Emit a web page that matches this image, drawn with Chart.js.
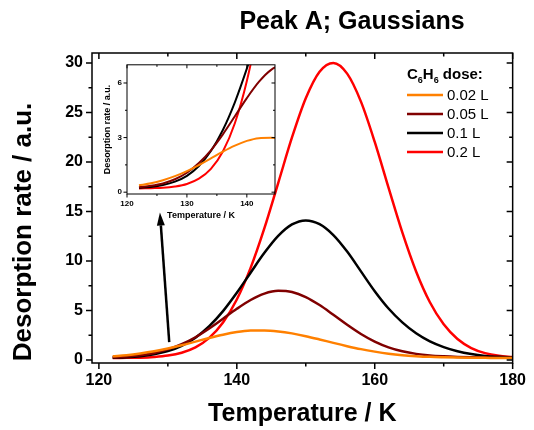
<!DOCTYPE html>
<html>
<head>
<meta charset="utf-8">
<script src="https://cdn.jsdelivr.net/npm/chart.js@4.4.1/dist/chart.umd.min.js"></script>
<style>
  html, body { margin: 0; padding: 0; background: #fff; }
  #wrap { position: relative; width: 534px; height: 430px; }
  #mainChart { position: absolute; left: 0; top: 0; }
  #insetChart { position: absolute; left: 95px; top: 55px; }
</style>
</head>
<body>
<div id="wrap">
  <canvas id="mainChart" width="534" height="430"></canvas>
  <canvas id="insetChart" width="190" height="175"></canvas>
</div>
<script>
// temperature (K) and desorption rate (a.u.)
const temperatures = [122, 124, 126, 128, 130, 132, 134, 136, 138, 140, 142, 144, 146, 148, 150,
                      152, 154, 156, 158, 160, 162, 164, 166, 168, 170, 172, 174, 176, 178, 180];
const dose002 = [0.38, 0.49, 0.66, 0.88, 1.16, 1.49, 1.86, 2.23, 2.56, 2.82, 2.97, 2.99, 2.89, 2.69, 2.41,
                 2.08, 1.73, 1.40, 1.10, 0.85, 0.64, 0.49, 0.39, 0.32, 0.28, 0.25, 0.23, 0.22, 0.21, 0.21];
const dose005 = [0.27, 0.35, 0.48, 0.71, 1.07, 1.60, 2.30, 3.18, 4.17, 5.17, 6.06, 6.71, 6.99, 6.87, 6.36,
                 5.55, 4.57, 3.56, 2.63, 1.86, 1.28, 0.88, 0.62, 0.46, 0.37, 0.31, 0.27, 0.25, 0.24, 0.23];
const dose01  = [0.24, 0.29, 0.39, 0.58, 0.90, 1.44, 2.26, 3.42, 4.94, 6.79, 8.82, 10.82, 12.53, 13.69, 14.10,
                 13.72, 12.62, 10.95, 8.95, 6.95, 5.20, 3.80, 2.70, 1.88, 1.30, 0.88, 0.60, 0.42, 0.32, 0.26];
const dose02  = [0.20, 0.22, 0.24, 0.31, 0.45, 0.74, 1.28, 2.24, 3.79, 6.11, 9.30, 13.31, 17.87, 22.47, 26.43,
                 29.11, 30.00, 28.92, 26.09, 22.02, 17.40, 12.88, 8.94, 5.83, 3.60, 2.12, 1.21, 0.70, 0.43, 0.30];

const seriesLabels = ['0.02 L', '0.05 L', '0.1 L', '0.2 L'];
const seriesColors = ['#FF8000', '#800000', '#000000', '#FF0000'];

// tick values
const xTickLabels = [120, 140, 160, 180];
const xMinorTicks = [130, 150, 170];
const yTickLabels = [0, 5, 10, 15, 20, 25, 30];
const yMinorTicks = [2.5, 7.5, 12.5, 17.5, 22.5, 27.5];
const insetXTickLabels = [120, 130, 140];
const insetXMinorTicks = [125, 135];
const insetYTickLabels = [0, 3, 6];
const insetYMinorTicks = [1.5, 4.5];

// arrow from the main curves up to the inset (data coordinates)
const arrowTail = [130.2, 1.8];
const arrowTip = [128.85, 14.9];

const FONT = "'Liberation Sans', Arial, sans-serif";

function makeDatasets(width) {
  return [dose002, dose005, dose01, dose02].map((vals, i) => ({
    label: seriesLabels[i],
    data: temperatures.map((t, j) => ({ x: t, y: vals[j] })),
    borderColor: seriesColors[i],
    borderWidth: width,
    pointRadius: 0,
    fill: false,
    cubicInterpolationMode: 'monotone'
  }));
}

function drawFrame(chart, o) {
  const { ctx, chartArea: a } = chart;
  const xs = chart.scales.x, ys = chart.scales.y;
  ctx.save();
  ctx.strokeStyle = '#000';
  ctx.lineWidth = o.lw;
  ctx.strokeRect(a.left, a.top, a.right - a.left, a.bottom - a.top);
  ctx.beginPath();
  const xm = o.xMajor.map(v => [v, o.major]).concat(o.xMinor.map(v => [v, o.minor]));
  xm.forEach(([v, len]) => {
    const px = xs.getPixelForValue(v);
    ctx.moveTo(px, a.bottom); ctx.lineTo(px, a.bottom + len);
    ctx.moveTo(px, a.top); ctx.lineTo(px, a.top + len);
  });
  const ym = o.yMajor.map(v => [v, o.major]).concat(o.yMinor.map(v => [v, o.minor]));
  ym.forEach(([v, len]) => {
    const py = ys.getPixelForValue(v);
    ctx.moveTo(a.left, py); ctx.lineTo(a.left - len, py);
    ctx.moveTo(a.right, py); ctx.lineTo(a.right - len, py);
  });
  ctx.stroke();
  ctx.restore();
}

const mainDecor = {
  id: 'mainDecor',
  afterDraw(chart) {
    const ctx = chart.ctx;
    drawFrame(chart, { lw: 1.5, major: 6, minor: 3.5,
      xMajor: xTickLabels, xMinor: xMinorTicks, yMajor: yTickLabels, yMinor: yMinorTicks });

    // title
    ctx.save();
    ctx.fillStyle = '#000';
    ctx.font = 'bold 25px ' + FONT;
    ctx.textAlign = 'center';
    ctx.textBaseline = 'middle';
    ctx.fillText('Peak A; Gaussians', 352, 22);

    // y axis title
    ctx.save();
    ctx.translate(24, 232);
    ctx.rotate(-Math.PI / 2);
    ctx.font = 'bold 26px ' + FONT;
    ctx.fillText('Desorption rate / a.u.', 0, 0);
    ctx.restore();

    // legend header with subscripts
    let lx = 407;
    const ly = 79;
    ctx.textAlign = 'left';
    ctx.textBaseline = 'alphabetic';
    const parts = [['C', 15, 0], ['6', 9, 4], ['H', 15, 0], ['6', 9, 4], [' dose:', 15, 0]];
    parts.forEach(([txt, size, dy]) => {
      ctx.font = 'bold ' + size + 'px ' + FONT;
      ctx.fillText(txt, lx, ly + dy);
      lx += ctx.measureText(txt).width;
    });

    // legend entries
    ctx.font = '15px ' + FONT;
    ctx.textBaseline = 'middle';
    const rows = [95, 114, 133, 152];
    seriesLabels.forEach((lab, i) => {
      ctx.strokeStyle = seriesColors[i];
      ctx.lineWidth = 2.5;
      ctx.beginPath();
      ctx.moveTo(407, rows[i]);
      ctx.lineTo(443, rows[i]);
      ctx.stroke();
      ctx.fillText(lab, 447, rows[i] + 1);
    });

    // arrow
    const xs = chart.scales.x, ys = chart.scales.y;
    const x0 = xs.getPixelForValue(arrowTail[0]), y0 = ys.getPixelForValue(arrowTail[1]);
    const x1 = xs.getPixelForValue(arrowTip[0]), y1 = ys.getPixelForValue(arrowTip[1]);
    const ang = Math.atan2(y1 - y0, x1 - x0);
    const hl = 13, hw = 4;
    const bx = x1 - hl * Math.cos(ang), by = y1 - hl * Math.sin(ang);
    ctx.strokeStyle = '#000';
    ctx.fillStyle = '#000';
    ctx.lineWidth = 2.5;
    ctx.beginPath();
    ctx.moveTo(x0, y0);
    ctx.lineTo(bx, by);
    ctx.stroke();
    ctx.beginPath();
    ctx.moveTo(x1, y1);
    ctx.lineTo(bx + hw * Math.sin(ang), by - hw * Math.cos(ang));
    ctx.lineTo(bx - hw * Math.sin(ang), by + hw * Math.cos(ang));
    ctx.closePath();
    ctx.fill();
    ctx.restore();
  }
};

const insetDecor = {
  id: 'insetDecor',
  afterDraw(chart) {
    drawFrame(chart, { lw: 1, major: 3.5, minor: 2,
      xMajor: insetXTickLabels, xMinor: insetXMinorTicks, yMajor: insetYTickLabels, yMinor: insetYMinorTicks });
  }
};

new Chart(document.getElementById('mainChart'), {
  type: 'line',
  data: { datasets: makeDatasets(2.5) },
  options: {
    responsive: false,
    animation: false,
    layout: { padding: { top: 53, right: 17, left: 0, bottom: 0 } },
    plugins: { legend: { display: false }, tooltip: { enabled: false }, title: { display: false } },
    scales: {
      x: {
        type: 'linear', min: 119, max: 180,
        afterBuildTicks: s => { s.ticks = xTickLabels.map(v => ({ value: v })); },
        afterFit: s => { s.height = 67; },
        grid: { display: false, drawTicks: false },
        border: { display: false },
        ticks: { padding: 8, color: '#000', maxRotation: 0, autoSkip: false,
                 font: { family: FONT, size: 16, weight: 'bold' } },
        title: { display: true, text: 'Temperature / K', color: '#000',
                 font: { family: FONT, size: 25, weight: 'bold' }, padding: { top: 0, bottom: 1 } }
      },
      y: {
        type: 'linear', min: -0.3, max: 31,
        afterBuildTicks: s => { s.ticks = yTickLabels.map(v => ({ value: v })); },
        afterFit: s => { s.width = 92; },
        grid: { display: false, drawTicks: false },
        border: { display: false },
        ticks: { padding: 9, color: '#000', autoSkip: false,
                 font: { family: FONT, size: 16, weight: 'bold' } },
        title: { display: false }
      }
    }
  },
  plugins: [mainDecor]
});

new Chart(document.getElementById('insetChart'), {
  type: 'line',
  data: { datasets: makeDatasets(2) },
  options: {
    responsive: false,
    animation: false,
    layout: { padding: { top: 7, right: 10, left: 0, bottom: 0 } },
    plugins: { legend: { display: false }, tooltip: { enabled: false } },
    scales: {
      x: {
        type: 'linear', min: 120, max: 144.7,
        afterBuildTicks: s => { s.ticks = insetXTickLabels.map(v => ({ value: v })); },
        afterFit: s => { s.height = 36; },
        grid: { display: false, drawTicks: false },
        border: { display: false },
        ticks: { padding: 5, color: '#000', maxRotation: 0, autoSkip: false,
                 font: { family: FONT, size: 8, weight: 'bold' } },
        title: { display: true, text: 'Temperature / K', color: '#000',
                 font: { family: FONT, size: 9, weight: 'bold' }, padding: { top: 0, bottom: 9 } }
      },
      y: {
        type: 'linear', min: -0.1, max: 7,
        afterBuildTicks: s => { s.ticks = insetYTickLabels.map(v => ({ value: v })); },
        afterFit: s => { s.width = 32; },
        grid: { display: false, drawTicks: false },
        border: { display: false },
        ticks: { padding: 5, color: '#000', autoSkip: false,
                 font: { family: FONT, size: 8, weight: 'bold' } },
        title: { display: true, text: 'Desorption rate / a.u.', color: '#000',
                 font: { family: FONT, size: 9, weight: 'bold' }, padding: { top: 7, bottom: 0 } }
      }
    }
  },
  plugins: [insetDecor]
});
</script>
</body>
</html>
